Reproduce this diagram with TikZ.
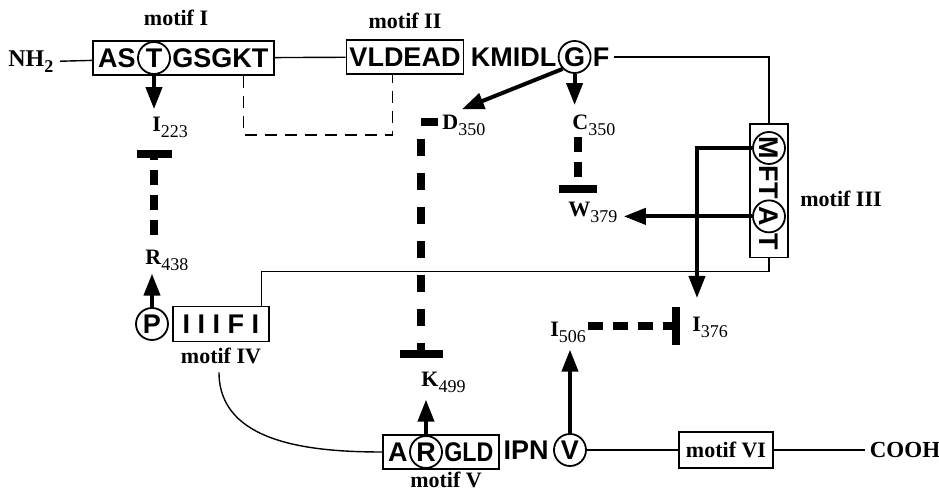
\documentclass[tikz,border=0pt]{standalone}
\usepackage{graphicx}
\usepackage{fontspec}
\setmainfont{Liberation Serif}
\setsansfont{Liberation Sans}
\usetikzlibrary{arrows.meta,positioning,calc,fit}

\newcommand{\rsub}[1]{\raisebox{-3pt}{\mdseries\fontsize{9}{10}\selectfont #1}}

\tikzset{
  seq/.style={font=\sffamily\bfseries\fontsize{13.5}{16}\selectfont, inner sep=0pt},
  seqtxt/.style={seq, text height=9.7pt, text depth=0pt},
  res/.style={seq, circle, draw, line width=0.9pt, minimum size=16pt},
  motifbox/.style={draw, line width=0.9pt, inner xsep=2.5pt, inner ysep=3.5pt},
  lbl/.style={font=\bfseries\fontsize{11}{13}\selectfont, inner sep=0pt},
  chain/.style={line width=0.7pt},
  link/.style={line width=0.6pt, dash pattern=on 6pt off 4pt},
  act/.style={-{Triangle[length=11pt,width=8pt]}, line width=2pt},
  inhib/.style={-{Bar[width=19pt]}, line width=4pt, dash pattern=on 7.5pt off 5pt},
}

\begin{document}
\begin{tikzpicture}[x=0.5pt,y=-0.5pt]
  \useasboundingbox (0,0) rectangle (939,490);

  % motif I
  \node[res] (m1T) at (154,58) {T};
  \node[seqtxt, left=0.5pt of m1T] (m1a) {AS};
  \node[seqtxt, right=0.5pt of m1T] (m1b) {GSGKT};
  \node[motifbox, fit=(m1a)(m1b)] (mot1) {};
  \node[lbl] (lbl1) at (176,18) {motif I};
  \node[lbl, font=\bfseries\fontsize{12}{14}\selectfont, anchor=west] (nh2) at (8,62)
    {NH\raisebox{-3pt}{\fontsize{9}{10}\selectfont 2}};

  % motif II
  \node[seqtxt, motifbox, inner xsep=1.5pt] (mot2) at (405,57) {VLDEAD};
  \node[seqtxt, right=3pt of mot2] (kmidl) {KMIDL};
  \node[res, right=0.5pt of kmidl] (m2G) {G};
  \node[seqtxt, right=0.5pt of m2G] (m2F) {F};
  \node[lbl] (lbl2) at (405,21) {motif II};

  % motif III
  \node[res] (m3M) at (769,148) {\rotatebox{-90}{M}};
  \node[seq, below=0pt of m3M] (m3F) {\rotatebox{-90}{F}};
  \node[seq, below=0pt of m3F] (m3T) {\rotatebox{-90}{T}};
  \node[res, below=0pt of m3T] (m3A) {\rotatebox{-90}{A}};
  \node[seq, below=0pt of m3A] (m3T2) {\rotatebox{-90}{T}};
  \node[motifbox, inner xsep=1pt, fit=(m3M)(m3T2)] (mot3) {};
  \node[lbl] (lbl3) at (841,199) {motif III};

  % motif IV
  \node[res] (m4P) at (152,324) {P};
  \node[seqtxt, draw, line width=0.9pt, minimum width=48pt, minimum height=17.5pt,
    right=1.5pt of m4P] (mot4) {I I I F I};
  \node[lbl] (lbl4) at (221,356) {motif IV};

  % motif V
  \node[res] (m5R) at (426,452) {R};
  \node[seqtxt, left=0.5pt of m5R] (m5a) {A};
  \node[seqtxt, right=0.5pt of m5R] (m5b) {\scalebox{0.86}[1]{GLD}};
  \node[motifbox, fit=(m5a)(m5b)] (mot5) {};
  \node[res] (m5V) at (570,450) {V};
  \node[seqtxt, left=2pt of m5V] (ipn) {IPN};
  \node[lbl] (lbl5) at (446,480) {motif V};

  % motif VI
  \node[lbl, draw, line width=0.9pt, inner xsep=3.5pt, inner ysep=5pt] (mot6) at (726,450) {motif VI};
  \node[lbl, font=\bfseries\fontsize{11.5}{13}\selectfont] (cooh) at (905,450) {COOH};

  % residues
  \node[lbl, anchor=base west] (i223) at (152,132) {I\rsub{223}};
  \node[lbl, anchor=base west] (d350) at (442,130) {D\rsub{350}};
  \node[lbl, anchor=base west] (c350) at (572,130) {C\rsub{350}};
  \node[lbl, anchor=base west] (w379) at (568,217) {W\rsub{379}};
  \node[lbl, anchor=base west] (r438) at (145,265) {R\rsub{438}};
  \node[lbl, anchor=base west] (k499) at (421,387) {K\rsub{499}};
  \node[lbl, anchor=base west] (i376) at (692,332) {I\rsub{376}};
  \node[lbl, anchor=base west] (i506) at (550,337) {I\rsub{506}};

  % backbone
  \draw[chain, shorten <=3pt] (nh2) -- (mot1);
  \draw[chain] (mot1) -- (mot2);
  \draw[chain] ($(m2F.east)+(4,0)$) -| (mot3.north);
  \draw[chain] (mot3.south) -- ++(0,13) -| ($(mot4.north east)+(-8,0)$);
  \draw[chain] ($(lbl4.south)+(-2,8)$) to[out=-90,in=180] (mot5.west);
  \draw[chain] (m5V) -- (mot6);
  \draw[chain, shorten >=2pt] (mot6) -- (cooh);

  % contact motif I / motif II
  \draw[link] ($(mot1.south east)+(-31,0)$) -- ++(0,59) -| ($(mot2.south west)+(47,0)$);

  % activating
  \draw[act, shorten >=4pt] (m1T.south) -- (m1T.south |- i223.north);
  \draw[act] (m2G.south west) -- ($(d350.north west)+(20,-6)$);
  \draw[act, shorten >=5pt] (m2G.south) -- (m2G.south |- c350.north);
  \draw[act, shorten >=1pt] (m4P.north) -- (m4P.north |- r438.south);
  \draw[act] (m3M.west) -| ($(i376.base west)+(5,-34)$);
  \draw[act] (m3A.west) -- ($(m3A.west -| w379.east)+(6,0)$);
  \draw[act, shorten >=3pt] (m5R.north) -- (m5R.north |- k499.south);
  \draw[act, shorten >=3pt] (m5V.north) -- (m5V.north |- i506.south);

  % inhibiting
  \draw[inhib, -{Bar[width=17.5pt]}, shorten <=7.5pt] (r438.north -| m1T) -- ($(i223.south -| m1T)+(0,11)$);
  \draw[inhib, dash pattern=on 8.5pt off 8.5pt, -{Bar[width=21.5pt]}]
    ($(d350.base west)+(-4,-8)$) -| ($(k499.north west)+(0,-14)$);
  \draw[inhib] ($(c350.south west)+(6,0)$) -- ($(w379.north west)+(10,-9)$);
  \draw[inhib] ($(i506.base east)+(2,-11)$) -- ($(i376.base west)+(-12,-6)$);
\end{tikzpicture}
\end{document}
